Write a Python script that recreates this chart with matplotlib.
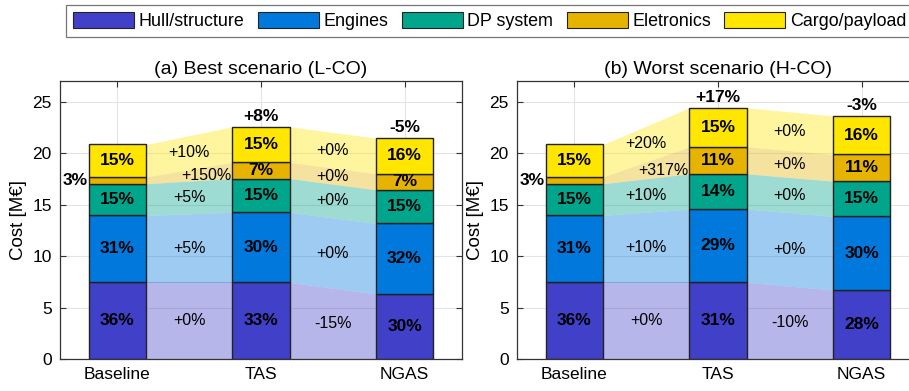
import matplotlib.pyplot as plt
from matplotlib.patches import Patch
import numpy as np

plt.rcParams['font.family'] = ['Liberation Sans', 'DejaVu Sans']

categories = ['Baseline', 'TAS', 'NGAS']
components = ['Hull/structure', 'Engines', 'DP system', 'Eletronics', 'Cargo/payload']
colors = ['#4040C8', '#0078DC', '#00A58C', '#E6B400', '#FFE600']

# cost per component [M€], order: Baseline, TAS, NGAS
best_hull = [7.45, 7.45, 6.30]
best_engines = [6.50, 6.80, 6.87]
best_dp = [3.08, 3.28, 3.27]
best_elec = [0.66, 1.57, 1.55]
best_cargo = [3.15, 3.46, 3.47]

worst_hull = [7.45, 7.45, 6.70]
worst_engines = [6.50, 7.11, 7.15]
worst_dp = [3.08, 3.43, 3.43]
worst_elec = [0.66, 2.62, 2.59]
worst_cargo = [3.15, 3.79, 3.75]

# share labels inside the bars (per bar: hull, engines, dp, elec, cargo)
best_shares = [[36, 31, 15, 3, 15], [33, 30, 15, 7, 15], [30, 32, 15, 7, 16]]
worst_shares = [[36, 31, 15, 3, 15], [31, 29, 14, 11, 15], [28, 30, 15, 11, 16]]

# change labels between bars (per gap: hull, engines, dp, elec, cargo)
best_flows = [['+0%', '+5%', '+5%', '+150%', '+10%'], ['-15%', '+0%', '+0%', '+0%', '+0%']]
worst_flows = [['+0%', '+10%', '+10%', '+317%', '+20%'], ['-10%', '+0%', '+0%', '+0%', '+0%']]

best_totals = ['', '+8%', '-5%']
worst_totals = ['', '+17%', '-3%']


def draw_panel(ax, data, shares, flows, totals, title):
    data = np.array(data)
    x = np.arange(1, len(categories) + 1)
    w = 0.4
    bottoms = np.vstack([np.zeros(len(x)), np.cumsum(data, axis=0)[:-1]])
    tops = bottoms + data

    # flows between bars
    for g in range(len(x) - 1):
        xs = [x[g] + w / 2, x[g + 1] - w / 2]
        for k in range(len(components)):
            ax.fill_between(xs, [bottoms[k, g], bottoms[k, g + 1]], [tops[k, g], tops[k, g + 1]],
                            color=colors[k], alpha=0.38, linewidth=0, zorder=1)
            ymid = (bottoms[k, g] + bottoms[k, g + 1] + tops[k, g] + tops[k, g + 1]) / 4
            xm = (x[g] + x[g + 1]) / 2
            if g == 0 and k == 3:
                xm += 0.12
            ax.text(xm, ymid, flows[g][k], ha='center', va='center', fontsize=11.5, zorder=4)

    for k in range(len(components)):
        ax.bar(x, data[k], bottom=bottoms[k], width=w, color=colors[k],
               edgecolor='#222222', linewidth=1, zorder=2)

    for j in range(len(x)):
        for k in range(len(components)):
            lbl = f'{shares[j][k]}%'
            if data[k, j] < 1.0:
                ax.text(x[j] - w / 2 - 0.01, (bottoms[k, j] + tops[k, j]) / 2, lbl,
                        ha='right', va='center', fontsize=12.5, fontweight='bold', zorder=4)
            else:
                ax.text(x[j], (bottoms[k, j] + tops[k, j]) / 2, lbl,
                        ha='center', va='center', fontsize=12.5, fontweight='bold', zorder=4)
        if totals[j]:
            ax.text(x[j], tops[-1, j] + 0.3, totals[j], ha='center', va='bottom',
                    fontsize=12.5, fontweight='bold', zorder=4)

    ax.set_xlim(0.6, 3.4)
    ax.set_ylim(0, 27)
    ax.set_xticks(x)
    ax.set_xticklabels(categories)
    ax.set_yticks(range(0, 26, 5))
    ax.set_axisbelow(True)
    ax.grid(True, color='#e3e3e3', linewidth=0.8)
    ax.tick_params(direction='in', top=True, right=True, length=4, labelsize=12.5,
                   color='#333333', pad=6)
    for s in ax.spines.values():
        s.set_color('#333333')
        s.set_linewidth(0.9)
    ax.set_ylabel('Cost [M€]', fontsize=13.5, labelpad=4)
    ax.set_title(title, fontsize=14, pad=5)


fig = plt.figure(figsize=(9.09, 3.91), dpi=100)
ax1 = fig.add_axes([60 / 909, 1 - 359 / 391, 402 / 909, 278 / 391])
ax2 = fig.add_axes([517 / 909, 1 - 359 / 391, 402 / 909, 278 / 391])

draw_panel(ax1, [best_hull, best_engines, best_dp, best_elec, best_cargo],
           best_shares, best_flows, best_totals, '(a) Best scenario (L-CO)')
draw_panel(ax2, [worst_hull, worst_engines, worst_dp, worst_elec, worst_cargo],
           worst_shares, worst_flows, worst_totals, '(b) Worst scenario (H-CO)')

handles = [Patch(facecolor=c, edgecolor='#222222', linewidth=0.8) for c in colors]
leg = fig.legend(handles, components, loc='upper left', bbox_to_anchor=(66 / 909, 1 - 5 / 391),
                 ncol=5, fontsize=12.9, frameon=True, fancybox=False, edgecolor='#555555',
                 borderpad=0.4, handlelength=3.4, handleheight=1.0, handletextpad=0.25,
                 columnspacing=0.76, borderaxespad=0)
leg.get_frame().set_linewidth(0.9)

fig.savefig('out.png', dpi=100)
